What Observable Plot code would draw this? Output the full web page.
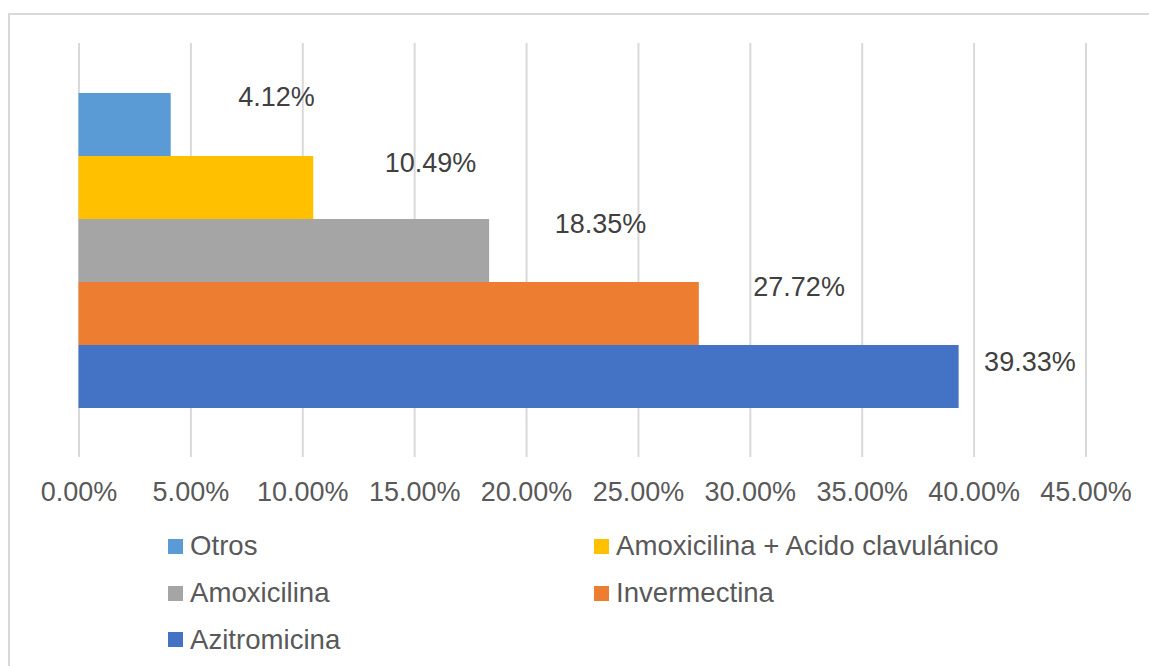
<!DOCTYPE html>
<html>
<head>
<meta charset="utf-8">
<script src="https://cdn.jsdelivr.net/npm/d3@7"></script>
<script src="https://cdn.jsdelivr.net/npm/@observablehq/plot@0.6"></script>
<style>
  html, body { margin: 0; padding: 0; background: #fff; overflow: hidden; }
  body { width: 1149px; height: 666px; position: relative; font-family: "Liberation Sans", Arial, sans-serif; }
  #frame { position: absolute; left: 8px; top: 13px; width: 1200px; height: 720px;
           border-top: 2px solid #d9d9d9; border-left: 2px solid #d9d9d9; pointer-events: none; z-index: 5; }
  #legend { display: grid; grid-template-columns: 426px auto; grid-auto-rows: 46.7px;
            padding-left: 168px; margin-top: 3px; color: #595959; font-size: 27.6px; }
  .item { display: flex; align-items: center; white-space: nowrap; }
  .sw { width: 15px; height: 15px; margin-right: 7px; flex: none; }
</style>
</head>
<body>
<div id="frame"></div>
<div id="chart"></div>
<div id="legend"></div>
<script>
const categories = ["Otros", "Amoxicilina + Acido clavulánico", "Amoxicilina", "Invermectina", "Azitromicina"];
const values = [0.0412, 0.1049, 0.1835, 0.2772, 0.3933];
const colors = ["#5B9BD5", "#FFC000", "#A5A5A5", "#ED7D31", "#4472C4"];
const xTicks = [0, 0.05, 0.10, 0.15, 0.20, 0.25, 0.30, 0.35, 0.40, 0.45];
// label nudges (style: offsets of each data label from its bar end)
const labelDx = [67, 71, 65, 54, 25];
const labelDy = [-28, -25, -27, -27, -15];

const data = categories.map((c, i) => ({category: c, value: values[i], color: colors[i], dx: labelDx[i], dy: labelDy[i]}));
const fmt = d3.format(".2%");

const chart = Plot.plot({
  width: 1149,
  height: 520,
  marginLeft: 78.5,
  marginRight: 63.5,
  marginTop: 43,
  marginBottom: 63,
  style: {fontFamily: "'Liberation Sans', Arial, sans-serif", background: "transparent"},
  x: {domain: [0, 0.45], axis: null},
  y: {domain: categories, paddingInner: 0, paddingOuter: 0.755, axis: null},
  marks: [
    Plot.ruleX(xTicks, {stroke: "#d9d9d9", strokeWidth: 2}),
    Plot.barX(data, {x: "value", y: "category", fill: "color"}),
    ...data.map(d => Plot.text([d], {
      x: "value", y: "category", text: v => fmt(v.value),
      textAnchor: "start", dx: d.dx, dy: d.dy, fontSize: 27, fill: "#404040"
    })),
    Plot.axisX({ticks: xTicks, tickFormat: fmt, tickSize: 0, tickPadding: 24, fontSize: 27, color: "#595959", anchor: "bottom", label: null})
  ]
});
document.getElementById("chart").appendChild(chart);

const legend = document.getElementById("legend");
categories.forEach((c, i) => {
  const item = document.createElement("div");
  item.className = "item";
  const sw = document.createElement("span");
  sw.className = "sw";
  sw.style.background = colors[i];
  const t = document.createElement("span");
  t.textContent = c;
  item.appendChild(sw);
  item.appendChild(t);
  legend.appendChild(item);
});
</script>
</body>
</html>
